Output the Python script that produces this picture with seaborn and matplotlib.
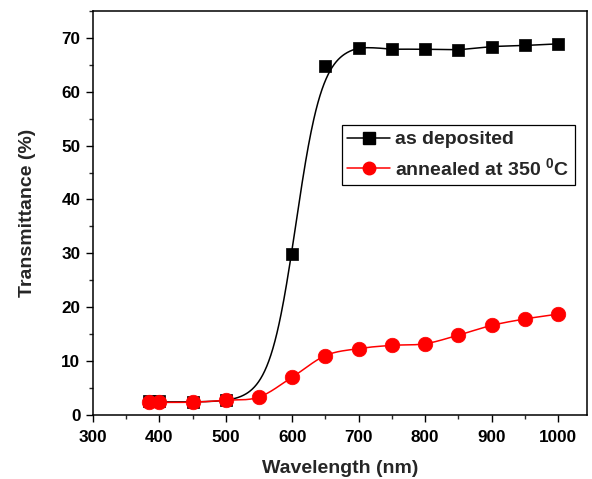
import numpy as np
import pandas as pd
import matplotlib
matplotlib.use("Agg")
import matplotlib.pyplot as plt
from matplotlib.lines import Line2D
from matplotlib.ticker import MultipleLocator
import seaborn as sns

wavelength_dep = [385, 400, 450, 500, 600, 650, 700, 750, 800, 850, 900, 950, 1000]
trans_dep = [2.6, 2.6, 2.4, 2.7, 29.8, 64.8, 68.1, 67.9, 67.9, 67.8, 68.4, 68.6, 68.9]
wavelength_ann = [385, 400, 450, 500, 550, 600, 650, 700, 750, 800, 850, 900, 950, 1000]
trans_ann = [2.3, 2.3, 2.35, 2.7, 3.3, 7.0, 11.0, 12.3, 12.9, 13.2, 14.8, 16.6, 17.8, 18.7]
labels = ["as deposited", "annealed at 350 $\\mathbf{^{0}}$C"]


def sigmoid_curve(xs, ys, width=20.0, n=600):
    """Boltzmann fit with fixed width (grid search on centre + linear LSQ),
    plateau follows the data."""
    xs = np.asarray(xs, float)
    ys = np.asarray(ys, float)
    best = None
    for x0 in np.arange(570, 640, 0.5):
        f = 1 / (1 + np.exp(-(xs - x0) / width))
        A = np.column_stack([np.ones_like(f), f])
        coef, *_ = np.linalg.lstsq(A, ys, rcond=None)
        err = np.sum((A @ coef - ys) ** 2)
        if best is None or err < best[0]:
            best = (err, x0, coef)
    _, x0, coef = best
    sig = lambda x: coef[0] + coef[1] / (1 + np.exp(-(x - x0) / width))
    xg = np.linspace(xs.min(), xs.max(), n)
    resid = np.where(xs >= 700, ys - sig(xs), 0.0)
    return xg, sig(xg) + np.interp(xg, xs, resid)


def catmull_rom(xs, ys, n=30):
    P = np.column_stack([xs, ys]).astype(float)
    P = np.vstack([P[0], P, P[-1]])
    out = []
    t = np.linspace(0, 1, n, endpoint=False)[:, None]
    for i in range(1, len(P) - 2):
        p0, p1, p2, p3 = P[i - 1], P[i], P[i + 1], P[i + 2]
        seg = 0.5 * ((2 * p1) + (-p0 + p2) * t + (2 * p0 - 5 * p1 + 4 * p2 - p3) * t**2
                     + (-p0 + 3 * p1 - 3 * p2 + p3) * t**3)
        out.append(seg)
    out.append(P[-2][None, :])
    out = np.vstack(out)
    return out[:, 0], out[:, 1]


sns.set_theme(style="ticks")
plt.rcParams["font.family"] = ["Liberation Sans", "DejaVu Sans"]
plt.rcParams["mathtext.fontset"] = "custom"
plt.rcParams["mathtext.rm"] = "Liberation Sans:bold"
plt.rcParams["mathtext.bf"] = "Liberation Sans:bold"

fig = plt.figure(figsize=(5.92, 4.79), dpi=100)
ax = fig.add_axes([0.157, 0.134, 0.835, 0.843])

bx, by = sigmoid_curve(wavelength_dep, trans_dep)
rx, ry = catmull_rom(wavelength_ann, trans_ann)

sns.lineplot(x=bx, y=by, ax=ax, color="black", linewidth=1.1, sort=False, estimator=None)
sns.scatterplot(x=wavelength_dep, y=trans_dep, ax=ax, marker="s", color="black",
                s=75, edgecolor="black", linewidth=0.5, zorder=3)
sns.lineplot(x=rx, y=ry, ax=ax, color="red", linewidth=1.1, sort=False, estimator=None)
sns.scatterplot(x=wavelength_ann, y=trans_ann, ax=ax, marker="o", color="red",
                s=110, edgecolor="red", linewidth=0.5, zorder=4)

ax.set_xlim(300, 1044)
ax.set_ylim(0, 75)
ax.xaxis.set_major_locator(MultipleLocator(100))
ax.xaxis.set_minor_locator(MultipleLocator(50))
ax.yaxis.set_major_locator(MultipleLocator(10))
ax.yaxis.set_minor_locator(MultipleLocator(5))
ax.tick_params(which="major", direction="out", length=5, width=1, labelsize=12.3,
               colors="black")
ax.tick_params(which="minor", direction="out", length=3, width=1)
ax.tick_params(axis="x", which="major", pad=6)
ax.tick_params(axis="y", which="major", pad=4)
for lab in ax.get_xticklabels() + ax.get_yticklabels():
    lab.set_fontweight("bold")
for sp in ax.spines.values():
    sp.set_linewidth(1.1)
    sp.set_color("black")

ax.set_xlabel("Wavelength (nm)", fontsize=14, fontweight="bold", labelpad=11)
ax.set_ylabel("Transmittance (%)", fontsize=14, fontweight="bold", labelpad=18)

handles = [
    Line2D([], [], color="black", marker="s", markersize=8, linewidth=1.1),
    Line2D([], [], color="red", marker="o", markersize=9, linewidth=1.1),
]
leg = ax.legend(handles, labels, loc="upper left", bbox_to_anchor=(0.503, 0.718),
                frameon=True, fancybox=False, edgecolor="black", framealpha=1,
                prop={"weight": "bold", "size": 14}, handlelength=2.2,
                handletextpad=0.25, borderpad=0.3, labelspacing=0.45,
                borderaxespad=0)
leg.get_frame().set_linewidth(0.9)

fig.savefig("out.png", dpi=100)
